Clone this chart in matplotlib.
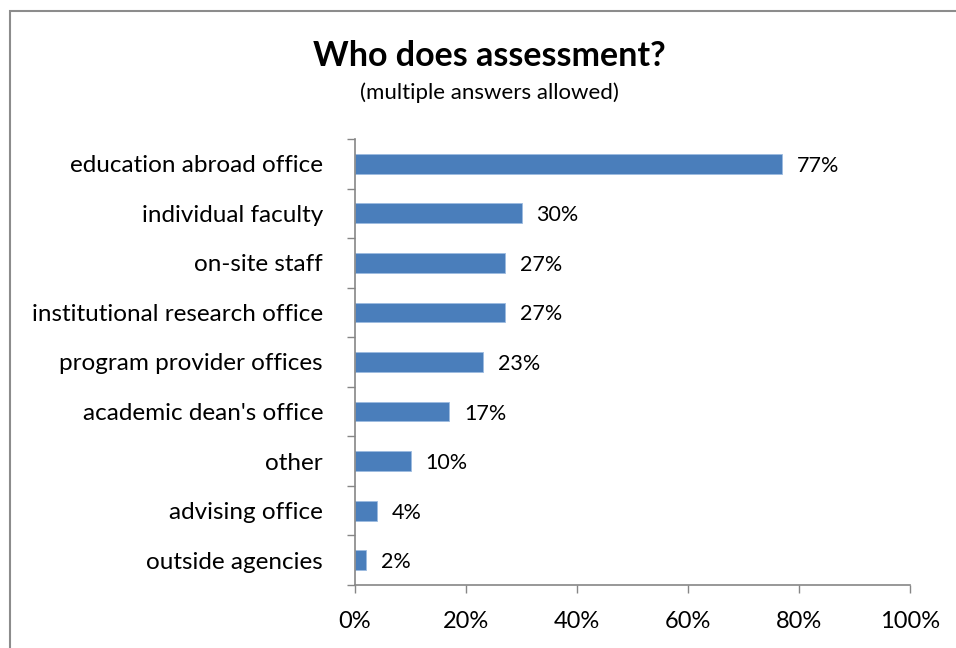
import matplotlib.pyplot as plt
from matplotlib.patches import Rectangle

categorias = ["education abroad office", "individual faculty", "on-site staff",
              "institutional research office", "program provider offices",
              "academic dean's office", "other", "advising office", "outside agencies"]
percentuais = [77, 30, 27, 27, 23, 17, 10, 4, 2]
ticks_x = [0, 20, 40, 60, 80, 100]

plt.rcParams['font.family'] = ['Lato', 'DejaVu Sans']
cinza = '#868686'

fig = plt.figure(figsize=(9.56, 6.48), dpi=100)

# moldura do grafico
fig.add_artist(Rectangle((10 / 956, -0.1), 1.0, 1 - 11 / 648 + 0.1,
                         transform=fig.transFigure, fill=False,
                         edgecolor='#8c8c8c', linewidth=1.5))

ax = fig.add_axes([355 / 956, 63 / 648, 555 / 956, 446 / 648])

pos = list(range(len(categorias)))
ax.barh(pos, percentuais, height=0.4, color='#4a7ebb',
        edgecolor='#9cbbe0', linewidth=0.6)

ax.set_xlim(0, 100)
ax.set_ylim(len(categorias) - 0.5, -0.5)

ax.set_xticks(ticks_x)
ax.set_xticklabels([f"{t}%" for t in ticks_x], fontsize=17)
ax.tick_params(axis='x', direction='out', length=6, width=1, color=cinza, pad=13)

ax.set_yticks(pos)
ax.set_yticklabels(categorias, fontsize=17.5)
ax.tick_params(axis='y', which='major', length=0, pad=23)
ax.set_yticks([p - 0.5 for p in pos] + [len(pos) - 0.5], minor=True)
ax.tick_params(axis='y', which='minor', direction='out', length=6, width=1, color=cinza)

for lado in ['top', 'right']:
    ax.spines[lado].set_visible(False)
for lado in ['left', 'bottom']:
    ax.spines[lado].set_color(cinza)
    ax.spines[lado].set_linewidth(1.2)

for i, valor in enumerate(percentuais):
    ax.text(valor + 2.7, i, f"{valor}%", va='center_baseline', ha='left', fontsize=15.5)

fig.text(489 / 956, 1 - 56 / 648, "Who does assessment?", ha='center', va='center',
         fontsize=24.5, fontweight='bold')
fig.text(489 / 956, 1 - 93 / 648, "(multiple answers allowed)", ha='center', va='center',
         fontsize=16)

fig.savefig("out.png", dpi=100)
plt.close(fig)
